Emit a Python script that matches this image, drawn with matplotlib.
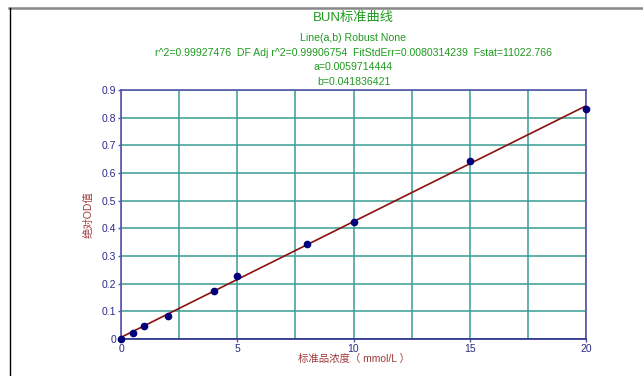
import matplotlib.pyplot as plt
from matplotlib.lines import Line2D

plt.rcParams['font.family'] = ['Liberation Sans', 'Noto Sans CJK SC', 'DejaVu Sans']

conc = [0, 0.5, 1, 2, 4, 5, 8, 10, 15, 20]
od = [0.0, 0.021, 0.046, 0.083, 0.175, 0.228, 0.342, 0.423, 0.644, 0.832]
a = 0.0059714444
b = 0.041836421
line_x = [0, 20]

title = 'BUN标准曲线'
subtitles = ['Line(a,b) Robust None',
             'r^2=0.99927476  DF Adj r^2=0.99906754  FitStdErr=0.0080314239  Fstat=11022.766',
             'a=0.0059714444',
             'b=0.041836421']

green = '#1f9a1f'
blue = '#2b2b86'
spine = '#5555aa'
teal = '#3a9e94'
red = '#9e3a3a'

fig = plt.figure(figsize=(6.43, 3.76), dpi=100)
ax = fig.add_axes([121/643, 1-339/376, 465/643, 249/376])

ax.set_xlim(0, 20)
ax.set_ylim(0, 0.9)
ax.set_xticks([0, 5, 10, 15, 20])
ax.set_xticks([2.5, 7.5, 12.5, 17.5], minor=True)
ax.set_yticks([i/10 for i in range(10)])
ax.set_yticklabels(['0'] + ['%.1f' % (i/10) for i in range(1, 10)])
ax.grid(True, which='both', color=teal, lw=1.4, alpha=0.8)
ax.set_axisbelow(True)
ax.tick_params(which='both', colors=spine, labelcolor=blue, labelsize=7.5, length=2, width=1, pad=1.5)
ax.tick_params(which='minor', length=0)
for s in ax.spines.values():
    s.set_color(spine)
    s.set_linewidth(1.2)
ax.spines['bottom'].set_color(blue)

ax.plot(line_x, [a + b*x for x in line_x], color='#8b1010', lw=1.2, zorder=3)
ax.plot(conc, od, 'o', color='#00007a', ms=4.5, zorder=4, clip_on=False)

ax.set_xlabel('标准品浓度（ mmol/L ）', color=red, fontsize=7.5, labelpad=0)
ax.set_ylabel('绝对OD值', color=red, fontsize=7.5, labelpad=6)

cx = (121 + 586) / 2 / 643
fig.text(cx, 1-18/376, title, color=green, fontsize=9.5, ha='center', va='center')
for i, s in enumerate(subtitles):
    fig.text(cx, 1-(38+i*14.7)/376, s, color=green, fontsize=7.6, ha='center', va='center')

fig.add_artist(Line2D([9/643, 1], [1-7.5/376]*2, color='#888888', lw=1.8))
fig.add_artist(Line2D([9.5/643]*2, [0, 1-8/376], color='black', lw=1))

fig.savefig('out.png', dpi=100)
